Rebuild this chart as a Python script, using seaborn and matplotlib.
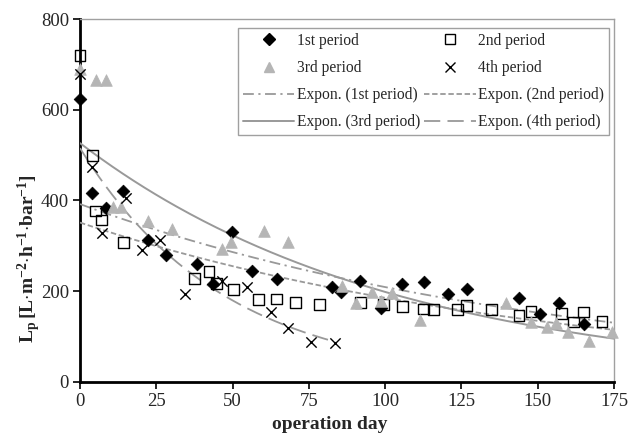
import numpy as np
import pandas as pd
import matplotlib
matplotlib.use("Agg")
import matplotlib.pyplot as plt
import seaborn as sns
from matplotlib.lines import Line2D

# ---- data ----
day_p1 = [0, 4.0, 8.4, 14.2, 22.2, 28.2, 38.2, 43.5, 49.7, 56.2, 64.7, 82.7, 85.5,
          91.7, 98.5, 105.6, 112.7, 120.5, 126.7, 143.9, 150.8, 156.9, 165.1]
lp_p1 = [624, 416, 383, 422, 313, 280, 259, 216, 330, 245, 227, 210, 199,
         222, 162, 217, 220, 194, 205, 185, 150, 173, 127]

day_p2 = [0, 4.0, 5.2, 7.1, 14.2, 37.4, 42.3, 44.8, 50.3, 58.4, 64.5, 70.5, 78.4,
          91.8, 99.4, 105.6, 112.5, 115.8, 123.7, 126.7, 134.9, 143.9, 147.8,
          157.9, 161.8, 165.0, 171.1]
lp_p2 = [719, 500, 377, 357, 308, 228, 243, 217, 203, 181, 183, 176, 170,
         176, 170, 166, 161, 159, 159, 168, 159, 146, 155, 151, 132, 154, 133]

day_p3 = [0, 5.2, 8.4, 10.9, 13.3, 22.2, 30.3, 46.6, 49.4, 60.4, 68.3, 85.7, 90.5,
          95.6, 98.5, 102.3, 111.5, 139.7, 147.7, 153.0, 156.0, 159.9, 166.9, 174.3]
lp_p3 = [689, 665, 665, 385, 386, 355, 337, 292, 308, 333, 308, 211, 175,
         199, 179, 196, 137, 174, 133, 121, 129, 111, 91, 111]

day_p4 = [0, 4.0, 7.2, 15.2, 20.2, 26.2, 34.3, 46.5, 54.6, 62.5, 68.3, 75.6, 83.6]
lp_p4 = [679, 473, 328, 406, 291, 314, 194, 222, 210, 155, 118, 89, 87]

series_names = ["1st period", "2nd period", "3rd period", "4th period"]
trend_names = ["Expon. (1st period)", "Expon. (2nd period)",
               "Expon. (3rd period)", "Expon. (4th period)"]
trend_end = [175, 175, 175, 83.6]

x_ticks = [0, 25, 50, 75, 100, 125, 150, 175]
y_ticks = [0, 200, 400, 600, 800]

# ---- styling ----
sns.set_theme(style="white")
plt.rcParams["font.family"] = ["Liberation Serif", "DejaVu Serif"]
plt.rcParams["mathtext.fontset"] = "custom"
plt.rcParams["mathtext.rm"] = "Liberation Serif"
plt.rcParams["mathtext.bf"] = "Liberation Serif:bold"

fig = plt.figure(figsize=(6.33, 4.36), dpi=100)
ax = fig.add_axes([0.1264, 0.1239, 0.8436, 0.8325])

GREY_TRI = "#b5b5b5"
datasets = [(day_p1, lp_p1), (day_p2, lp_p2), (day_p3, lp_p3), (day_p4, lp_p4)]
mk = [dict(marker="D", s=42, color="black", edgecolor="black", linewidth=0.5),
      dict(marker="s", s=60, facecolor="none", edgecolor="black", linewidth=1.0),
      dict(marker="^", s=70, color=GREY_TRI, edgecolor=GREY_TRI, linewidth=0.5),
      dict(marker="x", s=55, color="black", linewidth=1.0)]
trend_styles = [dict(color="#999999", lw=1.3, dashes=(6, 2.5, 1.2, 2.5)),
                dict(color="#999999", lw=1.3, dashes=(3, 1.5)),
                dict(color="#999999", lw=1.4, dashes=()),
                dict(color="#999999", lw=1.3, dashes=(9, 4))]

handles_pts = []
handles_tr = []
for i, (d, v) in enumerate(datasets):
    df = pd.DataFrame({"day": d, "lp": v})
    sns.scatterplot(data=df, x="day", y="lp", ax=ax, clip_on=False, zorder=4, **mk[i])
    # Excel-style exponential trendline (least squares on ln y)
    b, a = np.polyfit(np.array(d, float), np.log(np.array(v, float)), 1)
    xs = np.linspace(0, trend_end[i], 200)
    tdf = pd.DataFrame({"day": xs, "lp": np.exp(a) * np.exp(b * xs)})
    st = trend_styles[i]
    sns.lineplot(data=tdf, x="day", y="lp", ax=ax, color=st["color"], lw=st["lw"],
                 zorder=3)
    line = ax.get_lines()[-1]
    if st["dashes"]:
        line.set_dashes(st["dashes"])
    kw = dict(marker=mk[i]["marker"], linestyle="none", markersize=7)
    if i == 0:
        kw.update(color="black", markersize=6)
    elif i == 1:
        kw.update(markerfacecolor="none", markeredgecolor="black")
    elif i == 2:
        kw.update(color=GREY_TRI)
    else:
        kw.update(color="black")
    handles_pts.append(Line2D([], [], label=series_names[i], **kw))
    h = Line2D([], [], color=st["color"], lw=st["lw"], label=trend_names[i])
    if st["dashes"]:
        h.set_dashes(st["dashes"])
    handles_tr.append(h)

ax.set_xlim(0, 175)
ax.set_ylim(0, 800)
ax.set_xticks(x_ticks)
ax.set_yticks(y_ticks)
ax.tick_params(axis="both", which="major", direction="out", length=5, width=1.2,
               color="black", labelsize=13.5, pad=3, bottom=True, left=True)

for side in ["left", "bottom"]:
    ax.spines[side].set_color("black")
    ax.spines[side].set_linewidth(2.0)
for side in ["top", "right"]:
    ax.spines[side].set_color("#a0a0a0")
    ax.spines[side].set_linewidth(1.0)

ax.set_xlabel("operation day", fontsize=14, fontweight="bold")
ax.xaxis.set_label_coords(0.468, -0.095)
ax.set_ylabel(r"$\mathbf{L_p\,[L{\cdot}m^{-2}{\cdot}h^{-1}{\cdot}bar^{-1}]}$",
              fontsize=14)
ax.yaxis.set_label_coords(-0.07, 0.34)

order = [handles_pts[0], handles_pts[2], handles_tr[0], handles_tr[2],
         handles_pts[1], handles_pts[3], handles_tr[1], handles_tr[3]]
leg = ax.legend(handles=order, ncol=2, loc="upper right",
                bbox_to_anchor=(0.99, 0.975), borderaxespad=0, fontsize=11.2,
                frameon=True, fancybox=False, edgecolor="#a0a0a0", framealpha=1,
                handlelength=3.3, handletextpad=0.15, columnspacing=0.3,
                labelspacing=0.72, borderpad=0.3)
leg.get_frame().set_linewidth(1.0)

fig.savefig("out.png", dpi=100)
